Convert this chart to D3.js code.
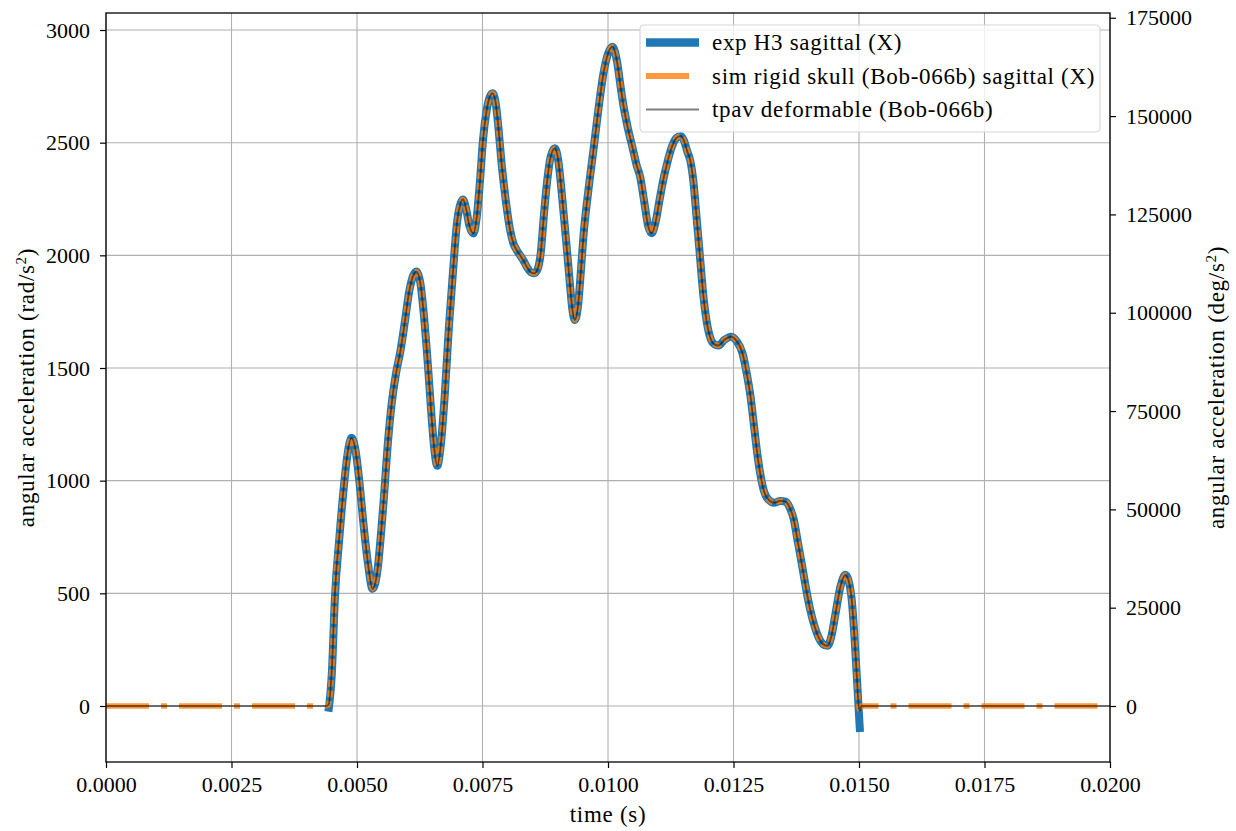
<!DOCTYPE html>
<html>
<head>
<meta charset="utf-8">
<script src="https://cdn.jsdelivr.net/npm/d3@7"></script>
<style>
  body { margin: 0; background: #fff; }
  text { font-family: "Liberation Serif", "Times New Roman", serif; fill: #000; }
</style>
</head>
<body>
<div id="chart"></div>
<script>
// time (s) shared by the three series
var time = [
  0.00000, 0.00200, 0.00438, 0.00443, 0.00450, 0.00456, 0.00465, 0.00473, 0.00481, 0.00489,
  0.00497, 0.00505, 0.00513, 0.00522, 0.00531, 0.00540, 0.00552, 0.00562, 0.00569, 0.00578,
  0.00586, 0.00595, 0.00604, 0.00612, 0.00618, 0.00626, 0.00633, 0.00641, 0.00648, 0.00654,
  0.00660, 0.00666, 0.00675, 0.00683, 0.00691, 0.00699, 0.00705, 0.00711, 0.00717, 0.00724,
  0.00732, 0.00738, 0.00745, 0.00751, 0.00758, 0.00764, 0.00770, 0.00776, 0.00782, 0.00788,
  0.00796, 0.00805, 0.00812, 0.00818, 0.00825, 0.00831, 0.00838, 0.00846, 0.00853, 0.00860,
  0.00866, 0.00872, 0.00879, 0.00886, 0.00894, 0.00901, 0.00906, 0.00911, 0.00918, 0.00924,
  0.00929, 0.00934, 0.00940, 0.00946, 0.00951, 0.00961, 0.00971, 0.00981, 0.00991, 0.01000,
  0.01009, 0.01018, 0.01025, 0.01030, 0.01040, 0.01050, 0.01057, 0.01064, 0.01072, 0.01080,
  0.01087, 0.01095, 0.01103, 0.01110, 0.01118, 0.01127, 0.01136, 0.01145, 0.01152, 0.01158,
  0.01164, 0.01170, 0.01176, 0.01183, 0.01190, 0.01197, 0.01205, 0.01212, 0.01220, 0.01232,
  0.01245, 0.01256, 0.01268, 0.01276, 0.01284, 0.01291, 0.01298, 0.01305, 0.01311, 0.01320,
  0.01331, 0.01343, 0.01354, 0.01362, 0.01370, 0.01378, 0.01387, 0.01395, 0.01403, 0.01412,
  0.01420, 0.01428, 0.01437, 0.01445, 0.01453, 0.01463, 0.01473, 0.01480, 0.01486, 0.01490,
  0.01493, 0.01497, 0.01500, 0.01502, 0.01505, 0.01800, 0.02000
];

// exp H3 sagittal (X), rad/s^2 (null = no sample)
var expValues = [
  null, null, null, -25, 150, 480, 750, 955, 1115, 1190,
  1135, 990, 806, 630, 520, 590, 880, 1180, 1340, 1480,
  1569, 1700, 1840, 1910, 1928, 1880, 1740, 1520, 1300, 1140,
  1066, 1140, 1386, 1680, 1920, 2140, 2220, 2248, 2210, 2130,
  2097, 2160, 2330, 2512, 2640, 2700, 2719, 2680, 2560, 2408,
  2250, 2112, 2050, 2024, 2000, 1979, 1950, 1925, 1920, 1940,
  2010, 2170, 2334, 2440, 2475, 2420, 2320, 2201, 2030, 1876,
  1760, 1713, 1770, 1930, 2083, 2290, 2467, 2650, 2808, 2895,
  2926, 2860, 2750, 2675, 2560, 2467, 2400, 2349, 2240, 2130,
  2098, 2150, 2250, 2334, 2410, 2480, 2520, 2530, 2505, 2460,
  2420, 2330, 2180, 2000, 1820, 1700, 1626, 1605, 1600, 1625,
  1639, 1620, 1565, 1480, 1372, 1240, 1109, 1010, 951, 915,
  902, 910, 907, 880, 828, 730, 618, 515, 425, 350,
  302, 275, 267, 310, 407, 530, 582, 550, 460, 340,
  232, 80, -40, -115, null, null, null
];

// sim rigid skull (Bob-066b) sagittal (X), rad/s^2
var simValues = [
  0, 0, 0, 5, 170, 500, 760, 960, 1120, 1190,
  1135, 990, 806, 630, 520, 590, 880, 1180, 1340, 1480,
  1569, 1700, 1840, 1910, 1928, 1880, 1740, 1520, 1300, 1140,
  1066, 1140, 1386, 1680, 1920, 2140, 2220, 2248, 2210, 2130,
  2097, 2160, 2330, 2512, 2640, 2700, 2719, 2680, 2560, 2408,
  2250, 2112, 2050, 2024, 2000, 1979, 1950, 1925, 1920, 1940,
  2010, 2170, 2334, 2440, 2475, 2420, 2320, 2201, 2030, 1876,
  1760, 1713, 1770, 1930, 2083, 2290, 2467, 2650, 2808, 2895,
  2926, 2860, 2750, 2675, 2560, 2467, 2400, 2349, 2240, 2130,
  2098, 2150, 2250, 2334, 2410, 2480, 2520, 2530, 2505, 2460,
  2420, 2330, 2180, 2000, 1820, 1700, 1626, 1605, 1600, 1625,
  1639, 1620, 1565, 1480, 1372, 1240, 1109, 1010, 951, 915,
  902, 910, 907, 880, 828, 730, 618, 515, 425, 350,
  302, 275, 267, 310, 407, 530, 582, 550, 460, 340,
  232, 80, -10, -20, 0, 0, 0
];

// tpav deformable (Bob-066b), rad/s^2
var tpavValues = [
  0, 0, 0, 5, 170, 500, 760, 960, 1120, 1190,
  1135, 990, 806, 630, 520, 590, 880, 1180, 1340, 1480,
  1569, 1700, 1840, 1910, 1928, 1880, 1740, 1520, 1300, 1140,
  1066, 1140, 1386, 1680, 1920, 2140, 2220, 2248, 2210, 2130,
  2097, 2160, 2330, 2512, 2640, 2700, 2719, 2680, 2560, 2408,
  2250, 2112, 2050, 2024, 2000, 1979, 1950, 1925, 1920, 1940,
  2010, 2170, 2334, 2440, 2475, 2420, 2320, 2201, 2030, 1876,
  1760, 1713, 1770, 1930, 2083, 2290, 2467, 2650, 2808, 2895,
  2926, 2860, 2750, 2675, 2560, 2467, 2400, 2349, 2240, 2130,
  2098, 2150, 2250, 2334, 2410, 2480, 2520, 2530, 2505, 2460,
  2420, 2330, 2180, 2000, 1820, 1700, 1626, 1605, 1600, 1625,
  1639, 1620, 1565, 1480, 1372, 1240, 1109, 1010, 951, 915,
  902, 910, 907, 880, 828, 730, 618, 515, 425, 350,
  302, 275, 267, 310, 407, 530, 582, 550, 460, 340,
  232, 80, -10, -20, 0, 0, 0
];

var seriesNames = ["exp H3 sagittal (X)", "sim rigid skull (Bob-066b) sagittal (X)", "tpav deformable (Bob-066b)"];
var xTicks = [0, 0.0025, 0.005, 0.0075, 0.01, 0.0125, 0.015, 0.0175, 0.02];
var yTicks = [0, 500, 1000, 1500, 2000, 2500, 3000];
var y2Ticks = [0, 25000, 50000, 75000, 100000, 125000, 150000, 175000];
var RAD2DEG = 180 / Math.PI;

// set the dimensions and margins of the graph
var W = 1236, H = 831;
var margin = {top: 13, right: 126, bottom: 69, left: 106},
    width = W - margin.left - margin.right,
    height = H - margin.top - margin.bottom;

var svg = d3.select("#chart")
  .append("svg")
    .attr("width", W)
    .attr("height", H)
  .append("g")
    .attr("transform", "translate(" + margin.left + "," + margin.top + ")");

var x = d3.scaleLinear().domain([0, 0.02]).range([0, width]);
var y = d3.scaleLinear().domain([-248.5, 3075.5]).range([height, 0]);
var y2 = d3.scaleLinear().domain(y.domain().map(function (d) { return d * RAD2DEG; })).range([height, 0]);

// grid
svg.append("g").selectAll("line").data(xTicks).enter().append("line")
    .attr("x1", function (d) { return x(d); }).attr("x2", function (d) { return x(d); })
    .attr("y1", 0).attr("y2", height)
    .style("stroke", "#b0b0b0").style("stroke-width", 1.1);
svg.append("g").selectAll("line").data(yTicks).enter().append("line")
    .attr("y1", function (d) { return y(d); }).attr("y2", function (d) { return y(d); })
    .attr("x1", 0).attr("x2", width)
    .style("stroke", "#b0b0b0").style("stroke-width", 1.1);

// data rows
var rows = time.map(function (t, i) {
  return {t: t, exp: expValues[i], sim: simValues[i], tpav: tpavValues[i]};
});

function lineFor(key) {
  return d3.line()
    .defined(function (d) { return d[key] !== null; })
    .x(function (d) { return x(d.t); })
    .y(function (d) { return y(d[key]); })
    .curve(d3.curveMonotoneX);
}

var plot = svg.append("g");

// exp: thick blue
plot.append("path")
    .datum(rows)
    .attr("d", lineFor("exp"))
    .style("fill", "none")
    .style("stroke", "#1f77b4")
    .style("stroke-width", 8)
    .style("stroke-linejoin", "round");

// sim: orange dash-dot on the flat parts, short dashes on the pulse
var simParts = [
  {rows: rows.filter(function (d) { return d.t <= 0.00438; }), dash: "43,12,6,12", offset: 0},
  {rows: rows.filter(function (d) { return d.t >= 0.00438 && d.t <= 0.01505; }), dash: "7,3.5", offset: 0},
  {rows: rows.filter(function (d) { return d.t >= 0.01505; }), dash: "43,12,6,12", offset: 26}
];
simParts.forEach(function (p) {
  plot.append("path")
      .datum(p.rows)
      .attr("d", lineFor("sim"))
      .style("fill", "none")
      .style("stroke", "#ff7f0e")
      .style("stroke-opacity", 0.8)
      .style("stroke-width", 5.5)
      .style("stroke-dasharray", p.dash)
      .style("stroke-dashoffset", p.offset);
});

// tpav: thin gray
plot.append("path")
    .datum(rows)
    .attr("d", lineFor("tpav"))
    .style("fill", "none")
    .style("stroke", "#000")
    .style("stroke-opacity", 0.5)
    .style("stroke-width", 1.8);

// frame
svg.append("rect")
    .attr("x", 0).attr("y", 0)
    .attr("width", width).attr("height", height)
    .style("fill", "none").style("stroke", "#000").style("stroke-width", 1.3);

// X axis
var xAxis = svg.append("g")
    .attr("transform", "translate(0," + height + ")")
    .call(d3.axisBottom(x).tickValues(xTicks).tickFormat(d3.format(".4f")).tickSize(6).tickPadding(8));

// Y axes
var yAxis = svg.append("g")
    .call(d3.axisLeft(y).tickValues(yTicks).tickFormat(d3.format("d")).tickSize(6).tickPadding(10));
var y2Axis = svg.append("g")
    .attr("transform", "translate(" + width + ",0)")
    .call(d3.axisRight(y2).tickValues(y2Ticks).tickFormat(d3.format("d")).tickSize(6).tickPadding(10));

[xAxis, yAxis, y2Axis].forEach(function (a) {
  a.select(".domain").remove();
  a.selectAll(".tick line").style("stroke", "#000").style("stroke-width", 1.2);
  a.selectAll(".tick text").style("font-family", "Liberation Serif").style("font-size", "22px").style("fill", "#000");
});

// X axis label
svg.append("text")
    .attr("text-anchor", "middle")
    .attr("x", width / 2)
    .attr("y", height + 60)
    .style("font-size", "23px")
    .style("letter-spacing", "0.7px")
    .text("time (s)");

// Y axis labels
function yLabel(xpos, unit) {
  var t = svg.append("text")
      .attr("text-anchor", "middle")
      .attr("transform", "translate(" + xpos + "," + (height / 2) + ") rotate(-90)")
      .style("font-size", "23px")
      .style("letter-spacing", "0.7px");
  t.append("tspan").text("angular acceleration (" + unit + "/s");
  t.append("tspan").attr("dy", -8).style("font-size", "15px").text("2");
  t.append("tspan").attr("dy", 8).text(")");
}
yLabel(-72, "rad");
yLabel(width + 114, "deg");

// legend
var legend = svg.append("g").attr("transform", "translate(" + (640 - margin.left) + "," + (25 - margin.top) + ")");
legend.append("rect")
    .attr("width", 460).attr("height", 107).attr("rx", 4)
    .style("fill", "#fff").style("fill-opacity", 0.8)
    .style("stroke", "#d6d6d6").style("stroke-width", 1.2);

var legendStyles = [
  {color: "#1f77b4", opacity: 1, width: 8.5, dash: null},
  {color: "#ff7f0e", opacity: 0.8, width: 6, dash: "43,12,6,12"},
  {color: "#000", opacity: 0.5, width: 1.8, dash: null}
];
seriesNames.forEach(function (name, i) {
  var cy = 17.5 + i * 33.5;
  var s = legendStyles[i];
  legend.append("line")
      .attr("x1", 6).attr("x2", 59).attr("y1", cy).attr("y2", cy)
      .style("stroke", s.color).style("stroke-opacity", s.opacity)
      .style("stroke-width", s.width)
      .style("stroke-dasharray", s.dash);
  legend.append("text")
      .attr("x", 72).attr("y", cy)
      .attr("dy", "0.33em")
      .style("font-size", "23px")
      .style("letter-spacing", "0.7px")
      .text(name);
});
</script>
</body>
</html>
